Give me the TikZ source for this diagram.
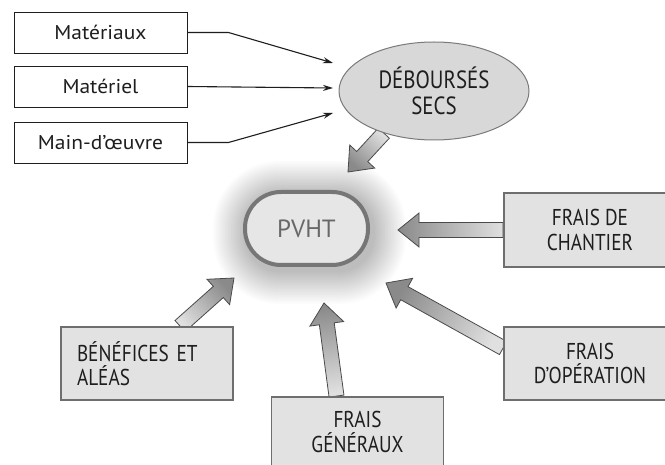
\documentclass[tikz,border=0pt]{standalone}
\usepackage{fontspec}
\setmainfont{PT Sans}
\newfontfamily\condfont[FakeStretch=0.84]{PT Sans}
\newfontfamily\widefont[FakeStretch=1.08]{PT Sans}
\usetikzlibrary{shapes.geometric,calc,arrows.meta}
\pgfdeclarelayer{bg}
\pgfdeclarelayer{back}
\pgfsetlayers{back,bg,main}
\definecolor{txt}{HTML}{1E1E1E}
\definecolor{boxfill}{HTML}{E2E2E2}
\definecolor{boxline}{HTML}{6E6E6E}
\definecolor{ellfill}{HTML}{D8D8D8}
\definecolor{ellline}{HTML}{7A7A7A}
\definecolor{pvfill}{HTML}{E6E6E6}
\definecolor{pvline}{HTML}{767676}
\definecolor{pvtxt}{HTML}{686868}
\definecolor{arrline}{HTML}{4A4A4A}
\definecolor{arrtip}{HTML}{8A8A8A}
\definecolor{arrtail}{HTML}{E0E0E0}
\tikzset{
  topbox/.style={draw=txt, line width=0.9bp, fill=white, inner sep=0pt,
    minimum width=173bp, minimum height=41bp, text=txt,
    font=\widefont\fontsize{20}{22}\selectfont},
  graybox/.style={draw=boxline, line width=1.8bp, fill=boxfill, inner sep=0pt,
    minimum width=172bp, text=txt, align=center,
    font=\condfont\fontsize{23}{24.5}\selectfont},
  thinarr/.style={draw=txt, line width=1.1bp, -{Stealth[length=10bp,width=6bp]}},
  fatstyle/.style={draw=arrline, line width=0.8bp, top color=arrtip, bottom color=arrtail},
}
\newcommand\fatarr[2]{%
  \pgfmathanglebetweenpoints{\pgfpointanchor{#1}{center}}{\pgfpointanchor{#2}{center}}%
  \pgfmathsetmacro\fatang{\pgfmathresult-90}%
  \coordinate (fa-c) at ($(#2)!21bp!(#1)$);
  \begin{pgfonlayer}{bg}
  \shade[fatstyle, shading angle=\fatang]
    ($(#1)!7.5bp!90:(#2)$) -- ($(fa-c)!7.5bp!90:(#2)$) -- ($(fa-c)!17bp!90:(#2)$)
    -- (#2) -- ($(fa-c)!17bp!-90:(#2)$) -- ($(fa-c)!7.5bp!-90:(#2)$)
    -- ($(#1)!7.5bp!-90:(#2)$) -- cycle;
  \end{pgfonlayer}
}
\begin{document}
\begin{tikzpicture}[x=1bp,y=-1bp]
\useasboundingbox (0,0) rectangle (665,465);
\begin{pgfonlayer}{back}
\fill[white] (0,0) rectangle (665,465);
\end{pgfonlayer}

% top input boxes
\node[topbox] (m1) at (100.5,32.5) {Matériaux};
\node[topbox] (m2) at (100.5,86.5) {Matériel};
\node[topbox] (m3) at (100.5,142.5) {Main-d’œuvre};

% déboursés secs
\node[ellipse, draw=ellline, line width=1bp, fill=ellfill, inner sep=0pt,
      minimum width=190bp, minimum height=98bp, align=center, text=txt,
      font=\condfont\fontsize{25}{26}\selectfont] (deb) at (434,91) {DÉBOURSÉS\\SECS};

\coordinate (tm1) at (333,63);
\coordinate (tm2) at (333,88);
\coordinate (tm3) at (333,113);
\draw[thinarr] (m1.east) -- ++(41,0) -- (tm1);
\draw[thinarr] (m2.east) -- (tm2);
\draw[thinarr] (m3.east) -- ++(41,0) -- (tm3);

% PVHT
\node[draw=pvline, line width=4bp, fill=pvfill, rounded corners=36bp,
      minimum width=123bp, minimum height=73bp, inner sep=0pt, text=pvtxt,
      font=\fontsize{25}{30}\selectfont] (pvht) at (306.5,228.5) {PVHT};
\begin{pgfonlayer}{back}
\foreach \d in {1,...,22}{
  \fill[black, opacity=0.011, rounded corners=36+\d*1.4]
    ($(pvht.north west)+(-1.5*\d+3,-1.5*\d+4)$) rectangle ($(pvht.south east)+(1.5*\d+3,1.5*\d+4)$);
}
\end{pgfonlayer}

% gray boxes
\node[graybox, minimum height=74bp] (chan) at (590,230) {FRAIS DE\\CHANTIER};
\node[graybox, minimum height=73bp] (oper) at (590,363.5) {FRAIS\\D’OPÉRATION};
\node[graybox, minimum height=70bp] (gen) at (357.5,432) {FRAIS\\GÉNÉRAUX};
\node[graybox, minimum width=0pt, minimum height=73bp, text width=140bp, align=left,
      inner xsep=16bp] (ben) at (147,363.5) {BÉNÉFICES ET\\ALÉAS};

% fat arrows
\coordinate (sdeb) at (deb.220);
\coordinate (tdeb) at (348,172);
\coordinate (schan) at (chan.west);
\coordinate (tchan) at (398,230);
\coordinate (soper) at ($(oper.west)+(0,-15.5)$);
\coordinate (toper) at (386,283);
\coordinate (sgen) at ($(gen.north)+(-21,0)$);
\coordinate (tgen) at (324,303);
\coordinate (sben) at ($(ben.north)+(33,0)$);
\coordinate (tben) at (234,278);
\fatarr{sdeb}{tdeb}
\fatarr{schan}{tchan}
\fatarr{soper}{toper}
\fatarr{sgen}{tgen}
\fatarr{sben}{tben}
\end{tikzpicture}
\end{document}
